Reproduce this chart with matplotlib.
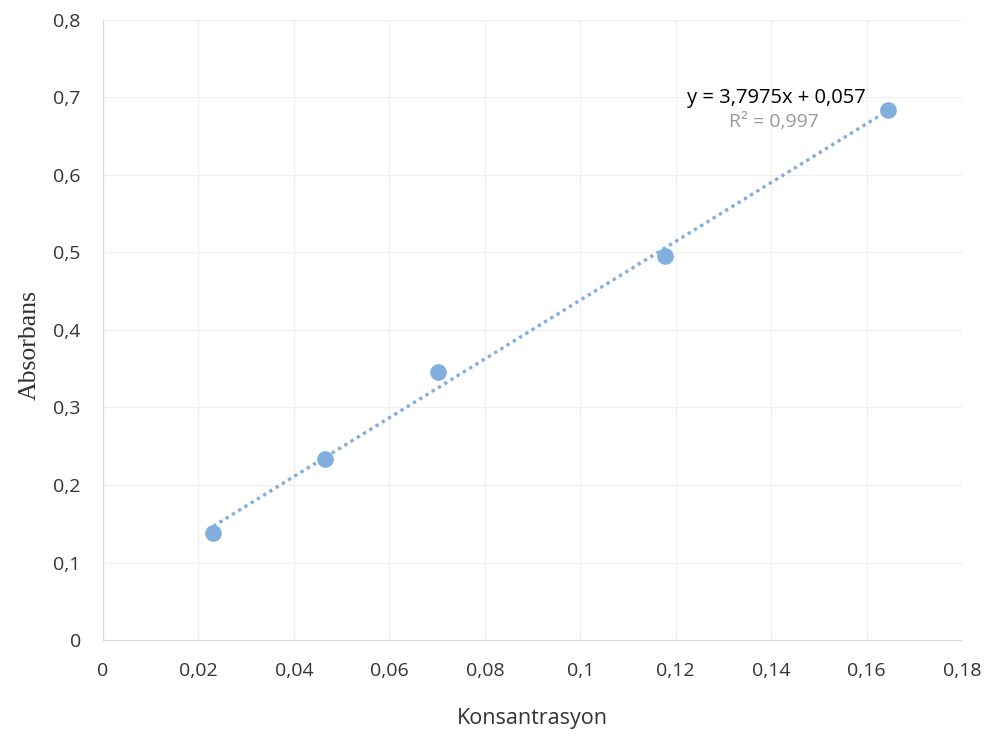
import matplotlib.pyplot as plt
import numpy as np
from matplotlib.ticker import FuncFormatter, MultipleLocator

# Calibration data
konsantrasyon = [0.0231, 0.0465, 0.0702, 0.1178, 0.1645]
absorbans = [0.138, 0.234, 0.346, 0.495, 0.684]

eq_text = "y = 3,7975x + 0,057"
r2_text = "R² = 0,997"

plt.rcParams["font.family"] = ["Open Sans", "DejaVu Sans"]

fig = plt.figure(figsize=(10.06, 7.40), dpi=100)
ax = fig.add_axes([0.1024, 0.1351, 0.854, 0.838])

color = "#82AEDE"

# Linear trendline
coef = np.polyfit(konsantrasyon, absorbans, 1)
xs = np.array([min(konsantrasyon), max(konsantrasyon)])
ax.plot(xs, np.polyval(coef, xs), linestyle=(0, (1, 1.2)), color=color, linewidth=2.4, zorder=2)
ax.plot(konsantrasyon, absorbans, "o", color=color, markersize=11, zorder=3)

ax.set_xlim(0, 0.18)
ax.set_ylim(0, 0.8)
ax.xaxis.set_major_locator(MultipleLocator(0.02))
ax.yaxis.set_major_locator(MultipleLocator(0.1))

def comma_fmt(v, pos):
    s = f"{v:.2f}".rstrip("0").rstrip(".")
    return s.replace(".", ",")

ax.xaxis.set_major_formatter(FuncFormatter(comma_fmt))
ax.yaxis.set_major_formatter(FuncFormatter(comma_fmt))

ax.grid(True, color="#F0F0F0", linewidth=1)
ax.set_axisbelow(True)
for s in ["top", "right"]:
    ax.spines[s].set_visible(False)
for s in ["left", "bottom"]:
    ax.spines[s].set_color("#D9D9D9")
ax.tick_params(axis="both", length=0, labelsize=14, colors="#333333")
ax.tick_params(axis="x", pad=16)
ax.tick_params(axis="y", pad=16)

ax.set_xlabel("Konsantrasyon", fontsize=15.5, color="#333333", labelpad=20)
ax.set_ylabel("Absorbans", fontsize=18.5, family=["Liberation Serif"], color="#303030")
ax.yaxis.set_label_coords(-0.072, 0.476)

ax.text(0.141, 0.699, eq_text, fontsize=14.5, color="black", ha="center", va="center")
ax.text(0.1406, 0.668, r2_text, fontsize=14, color="#999999", ha="center", va="center")

fig.savefig("out.png", dpi=100)
